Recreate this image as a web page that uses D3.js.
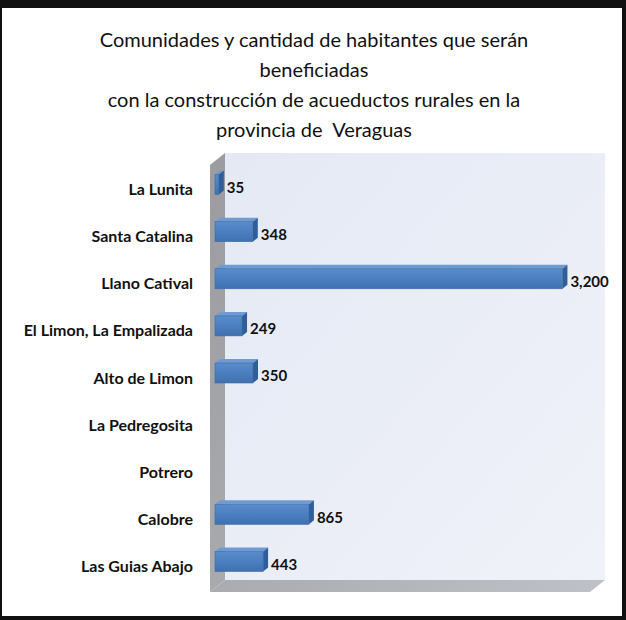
<!DOCTYPE html>
<html><head><meta charset="utf-8">
<script src="https://cdn.jsdelivr.net/npm/d3@7"></script>
<style>body{margin:0;background:#fff}svg{display:block}</style>
</head><body>
<script>
const categories = ["La Lunita","Santa Catalina","Llano Catival","El Limon, La Empalizada","Alto de Limon","La Pedregosita","Potrero","Calobre","Las Guias Abajo"];
const values = [35, 348, 3200, 249, 350, null, null, 865, 443];
const valueLabels = ["35","348","3,200","249","350","","","865","443"];
const titleLines = ["Comunidades y cantidad de habitantes que serán","beneficiadas","con la construcción de acueductos rurales en la","provincia de  Veraguas"];
const xDomain = [0, 3500];

const W = 626, H = 620;
const svg = d3.select("body").append("svg").attr("width", W).attr("height", H);
const defs = svg.append("defs");

// frame
svg.append("rect").attr("width", W).attr("height", H).attr("fill", "#111");
svg.append("rect").attr("x", 2).attr("y", 8).attr("width", 620).attr("height", 608).attr("fill", "#fff");

// title
const title = svg.append("text").attr("text-anchor", "middle")
  .style("font-family", "Lato, 'Open Sans', sans-serif").style("font-size", "20px").attr("fill", "#111")
  .style("white-space", "pre");
titleLines.forEach((t, i) => title.append("tspan").attr("x", 314).attr("y", 47 + i * 30).text(t));

// geometry
const x0 = 210, yFloor = 592, dx = 15, dy = -12, yTop = 165;
const x = d3.scaleLinear().domain(xDomain).range([0, 380]);
const y = d3.scaleBand().domain(categories).range([166, 590]);

// gradients
const gBack = defs.append("linearGradient").attr("id", "gBack").attr("x1", 0).attr("y1", 0).attr("x2", 1).attr("y2", 1);
gBack.append("stop").attr("offset", 0).attr("stop-color", "#e4e9f4");
gBack.append("stop").attr("offset", 1).attr("stop-color", "#f0f2f9");
const gWall = defs.append("linearGradient").attr("id", "gWall").attr("x1", 0).attr("y1", 0).attr("x2", 0).attr("y2", 1);
gWall.append("stop").attr("offset", 0).attr("stop-color", "#9c9ca0");
gWall.append("stop").attr("offset", 1).attr("stop-color", "#a9aaae");
const gFloor = defs.append("linearGradient").attr("id", "gFloor").attr("x1", 0).attr("y1", 0).attr("x2", 1).attr("y2", 0);
gFloor.append("stop").attr("offset", 0).attr("stop-color", "#a9abb0");
gFloor.append("stop").attr("offset", 1).attr("stop-color", "#bfc1c6");
const gFront = defs.append("linearGradient").attr("id", "gFront").attr("x1", 0).attr("y1", 0).attr("x2", 0).attr("y2", 1);
gFront.append("stop").attr("offset", 0).attr("stop-color", "#5a8ccb");
gFront.append("stop").attr("offset", 0.5).attr("stop-color", "#4b7fc0");
gFront.append("stop").attr("offset", 1).attr("stop-color", "#3f71b0");

const line = d3.line();
// back wall
svg.append("path").attr("d", line([[x0 + dx, yTop + dy], [x0 + x(xDomain[1]) + dx, yTop + dy], [x0 + x(xDomain[1]) + dx, yFloor + dy], [x0 + dx, yFloor + dy]]) + "Z")
  .attr("fill", "url(#gBack)");
// left wall
svg.append("path").attr("d", line([[x0, yTop], [x0 + dx, yTop + dy], [x0 + dx, yFloor + dy], [x0, yFloor]]) + "Z")
  .attr("fill", "url(#gWall)");
// floor
svg.append("path").attr("d", line([[x0, yFloor], [x0 + dx, yFloor + dy], [x0 + x(xDomain[1]) + dx, yFloor + dy], [x0 + x(xDomain[1]), yFloor]]) + "Z")
  .attr("fill", "url(#gFloor)");

// category labels
svg.append("g").selectAll("text").data(categories).join("text")
  .attr("x", 193).attr("y", d => y(d) + y.bandwidth() / 2).attr("dy", "0.35em")
  .attr("text-anchor", "end")
  .style("font-family", "Lato, 'Open Sans', sans-serif").style("font-weight", "bold").style("font-size", "16px")
  .attr("fill", "#111").text(d => d);

// bars
const bx = 5, bdx = 5, bdy = -4, bh = 20;
const data = categories.map((c, i) => ({c, v: values[i], lab: valueLabels[i]})).filter(d => d.v != null);
const bars = svg.append("g").selectAll("g").data(data).join("g");
bars.each(function(d) {
  const g = d3.select(this);
  const xl = x0 + bx, xr = x0 + bx + x(d.v);
  const yc = y(d.c) + y.bandwidth() / 2 - 5;
  const yt = yc - bh / 2, yb = yc + bh / 2;
  g.append("path").attr("d", line([[xl, yt], [xl + bdx, yt + bdy], [xr + bdx, yt + bdy], [xr, yt]]) + "Z").attr("fill", "#6f9bd3");
  g.append("path").attr("d", line([[xr, yt], [xr + bdx, yt + bdy], [xr + bdx, yb + bdy], [xr, yb]]) + "Z").attr("fill", "#2f5e99");
  g.append("rect").attr("x", xl).attr("y", yt).attr("width", xr - xl).attr("height", bh).attr("fill", "url(#gFront)")
    .attr("stroke", "#3d6aa5").attr("stroke-width", 0.6);
  g.append("text").attr("x", xr + bdx + 3).attr("y", yc + 3).attr("dy", "0.35em")
    .style("font-family", "Lato, 'Open Sans', sans-serif").style("font-weight", "bold").style("font-size", "15px")
    .attr("fill", "#111").text(d.lab);
});
</script>
</body></html>
